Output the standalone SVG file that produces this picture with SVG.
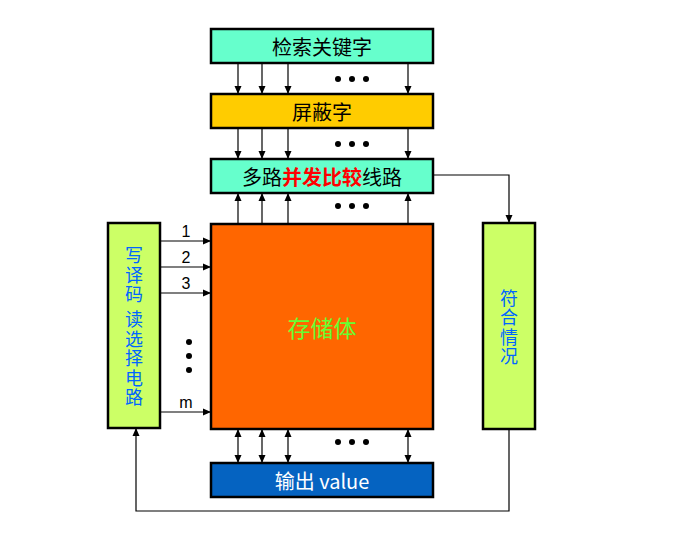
<svg xmlns="http://www.w3.org/2000/svg" width="683" height="541" viewBox="0 0 683 541">
<defs>
<marker id="ah" viewBox="0 0 8 8" refX="8" refY="4" markerWidth="8" markerHeight="8" markerUnits="userSpaceOnUse" orient="auto-start-reverse">
<path d="M0,0.5 L8,4 L0,7.5 Z" fill="#000"/>
</marker>
<style>
.box{stroke:#000;stroke-width:2.5}
.t{font-family:"Noto Sans CJK SC","Liberation Sans",sans-serif;font-size:20px;text-anchor:middle;dominant-baseline:central}
.big{font-size:23px;fill:#66FF33}
.v{font-family:"Noto Sans CJK SC",sans-serif;font-size:18px;fill:#0066FF;text-anchor:middle;writing-mode:vertical-rl;letter-spacing:1.5px}
.n{font-family:"Liberation Sans",sans-serif;font-size:16px;text-anchor:middle}
.c{stroke:#000;stroke-width:1.2;fill:none}
.a{marker-end:url(#ah)}
.b{marker-start:url(#ah);marker-end:url(#ah)}
</style>
</defs>
<rect width="683" height="541" fill="#fff"/>
<g id="connectors">
<line class="c a" x1="238" y1="63" x2="238" y2="94"/>
<line class="c a" x1="262" y1="63" x2="262" y2="94"/>
<line class="c a" x1="288" y1="63" x2="288" y2="94"/>
<line class="c a" x1="408" y1="63" x2="408" y2="94"/>
<line class="c a" x1="238" y1="128" x2="238" y2="159"/>
<line class="c a" x1="262" y1="128" x2="262" y2="159"/>
<line class="c a" x1="288" y1="128" x2="288" y2="159"/>
<line class="c a" x1="408" y1="128" x2="408" y2="159"/>
<line class="c a" x1="238" y1="224" x2="238" y2="193"/>
<line class="c a" x1="262" y1="224" x2="262" y2="193"/>
<line class="c a" x1="288" y1="224" x2="288" y2="193"/>
<line class="c a" x1="408" y1="224" x2="408" y2="193"/>
<line class="c b" x1="238" y1="429" x2="238" y2="463"/>
<line class="c b" x1="262" y1="429" x2="262" y2="463"/>
<line class="c b" x1="288" y1="429" x2="288" y2="463"/>
<line class="c b" x1="408" y1="429" x2="408" y2="463"/>
<line class="c a" x1="160" y1="241" x2="211" y2="241"/>
<line class="c a" x1="160" y1="267" x2="211" y2="267"/>
<line class="c a" x1="160" y1="293" x2="211" y2="293"/>
<line class="c a" x1="160" y1="412" x2="211" y2="412"/>
<polyline class="c a" points="433,175 509,175 509,223"/>
<polyline class="c a" points="509,429 509,511 136,511 136,428"/>
<g fill="#000">
<circle cx="338" cy="79" r="3"/><circle cx="352" cy="79" r="3"/><circle cx="366" cy="79" r="3"/>
<circle cx="338" cy="144" r="3"/><circle cx="352" cy="144" r="3"/><circle cx="366" cy="144" r="3"/>
<circle cx="338" cy="206" r="3"/><circle cx="352" cy="206" r="3"/><circle cx="366" cy="206" r="3"/>
<circle cx="338" cy="442" r="3"/><circle cx="352" cy="442" r="3"/><circle cx="366" cy="442" r="3"/>
<circle cx="189" cy="342" r="3"/><circle cx="189" cy="356" r="3"/><circle cx="189" cy="370" r="3"/>
</g>
<text class="n" x="186" y="237">1</text>
<text class="n" x="186" y="263">2</text>
<text class="n" x="186" y="289">3</text>
<text class="n" x="186" y="408">m</text>
</g>
<g id="keyword">
<rect class="box" x="211" y="29" width="222" height="34" fill="#66FFCC"/>
<text class="t" x="322" y="46">检索关键字</text>
</g>
<g id="mask">
<rect class="box" x="211" y="94" width="222" height="34" fill="#FFCC00"/>
<text class="t" x="322" y="111">屏蔽字</text>
</g>
<g id="compare">
<rect class="box" x="211" y="159" width="222" height="34" fill="#66FFCC"/>
<text class="t" x="322" y="176">多路<tspan fill="#FF0000" font-weight="bold">并发比较</tspan>线路</text>
</g>
<g id="storage">
<rect class="box" x="211" y="224" width="222" height="205" fill="#FF6600" stroke-width="3"/>
<text class="t big" x="322" y="327">存储体</text>
</g>
<g id="output">
<rect class="box" x="211" y="463" width="222" height="34" fill="#0563C1"/>
<text class="t" x="322" y="480" fill="#fff">输出 value</text>
</g>
<g id="decoder">
<rect class="box" x="108" y="223" width="52" height="205" fill="#CCFF66"/>
<text class="v" x="134" y="327">写译码 读选择电路</text>
</g>
<g id="match">
<rect class="box" x="483" y="223" width="52" height="206" fill="#CCFF66"/>
<text class="v" x="509" y="328">符合情况</text>
</g>
</svg>
